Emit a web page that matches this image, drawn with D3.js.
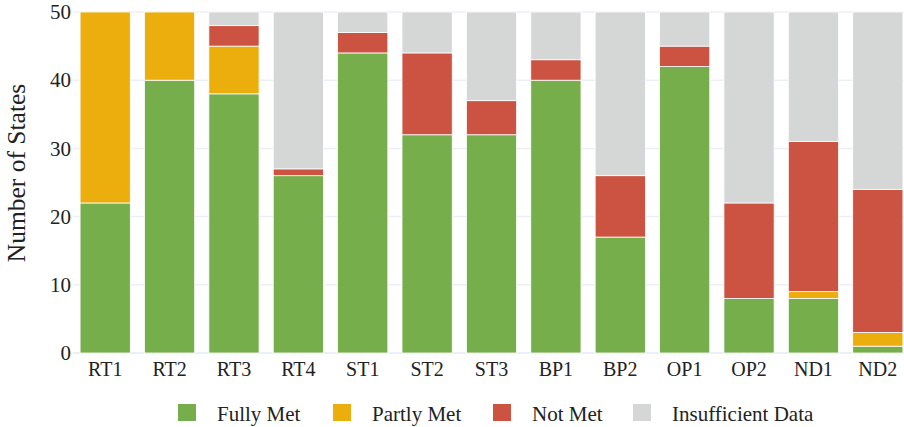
<!DOCTYPE html>
<html>
<head>
<meta charset="utf-8">
<script src="https://cdn.jsdelivr.net/npm/d3@7"></script>
<style>
  body { margin: 0; background: #fff; }
  svg text { font-family: "Liberation Serif", "Times New Roman", Times, serif !important; }
</style>
</head>
<body>
<svg id="chart"></svg>
<script>
// categories + series (number of states per status)
var categories = ["RT1","RT2","RT3","RT4","ST1","ST2","ST3","BP1","BP2","OP1","OP2","ND1","ND2"];
var fullyMet     = [22, 40, 38, 26, 44, 32, 32, 40, 17, 42,  8,  8,  1];
var partlyMet    = [28, 10,  7,  0,  0,  0,  0,  0,  0,  0,  0,  1,  2];
var notMet       = [ 0,  0,  3,  1,  3, 12,  5,  3,  9,  3, 14, 22, 21];
var insufficient = [ 0,  0,  2, 23,  3,  6, 13,  7, 24,  5, 28, 19, 26];
var seriesNames = ["Fully Met", "Partly Met", "Not Met", "Insufficient Data"];
var seriesColors = ["#75ae4a", "#ecae0d", "#cc5241", "#d5d6d6"];
var yTicks = [0, 10, 20, 30, 40, 50];

var W = 904, H = 427;
var margin = { top: 12, right: -6, bottom: 74, left: 73 };
var width = W - margin.left - margin.right,
    height = H - margin.top - margin.bottom;

var svg = d3.select("#chart").attr("width", W).attr("height", H);
var g = svg.append("g")
  .attr("transform", "translate(" + margin.left + "," + margin.top + ")");

var rows = categories.map(function(c, i) {
  return { cat: c, "Fully Met": fullyMet[i], "Partly Met": partlyMet[i],
           "Not Met": notMet[i], "Insufficient Data": insufficient[i] };
});
var stacked = d3.stack().keys(seriesNames)(rows);

var x = d3.scaleBand().domain(categories).range([0, width]).paddingInner(0.22).paddingOuter(0.11);
var y = d3.scaleLinear().domain([0, 50]).range([height, 0]);
var color = d3.scaleOrdinal().domain(seriesNames).range(seriesColors);

// grid
g.append("g")
  .selectAll("line")
  .data(yTicks)
  .join("line")
  .attr("x1", 0).attr("x2", width)
  .attr("y1", function(d) { return y(d); })
  .attr("y2", function(d) { return y(d); })
  .attr("stroke", "#ebf0f8")
  .attr("stroke-width", function(d) { return d === 0 ? 2 : 1.5; });

// bars
g.append("g")
  .selectAll("g")
  .data(stacked)
  .join("g")
  .attr("fill", function(d) { return color(d.key); })
  .selectAll("rect")
  .data(function(d) { return d; })
  .join("rect")
  .attr("x", function(d) { return x(d.data.cat); })
  .attr("width", x.bandwidth())
  .attr("y", function(d) { return y(d[1]); })
  .attr("height", function(d) { return Math.max(0, y(d[0]) - y(d[1])); })
  .attr("stroke", "#fff")
  .attr("stroke-width", 0.8)
  .style("display", function(d) { return d[1] - d[0] > 0 ? null : "none"; });

// y axis
var yAxis = g.append("g")
  .call(d3.axisLeft(y).tickValues(yTicks).tickSize(0).tickPadding(2));
yAxis.select(".domain").remove();
yAxis.selectAll("text")
  .attr("font-size", 21)
  .attr("fill", "#222");

// x axis
var xAxis = g.append("g")
  .attr("transform", "translate(0," + height + ")")
  .call(d3.axisBottom(x).tickSize(0).tickPadding(9));
xAxis.select(".domain").remove();
xAxis.selectAll("text")
  .attr("font-size", 20)
  .attr("fill", "#222");

// y title
svg.append("text")
  .attr("transform", "translate(25,173) rotate(-90)")
  .attr("text-anchor", "middle")
  .attr("font-size", 25.5)
  .attr("fill", "#222")
  .text("Number of States");

// legend
var legendX = [178, 333, 493, 633];
var legend = svg.append("g")
  .selectAll("g")
  .data(seriesNames)
  .join("g")
  .attr("transform", function(d, i) { return "translate(" + legendX[i] + ",404)"; });
legend.append("rect")
  .attr("width", 18).attr("height", 17)
  .attr("fill", function(d) { return color(d); });
legend.append("text")
  .attr("x", 39).attr("y", 17)
  .attr("font-size", 21)
  .attr("fill", "#222")
  .text(function(d) { return d; });
</script>
</body>
</html>
